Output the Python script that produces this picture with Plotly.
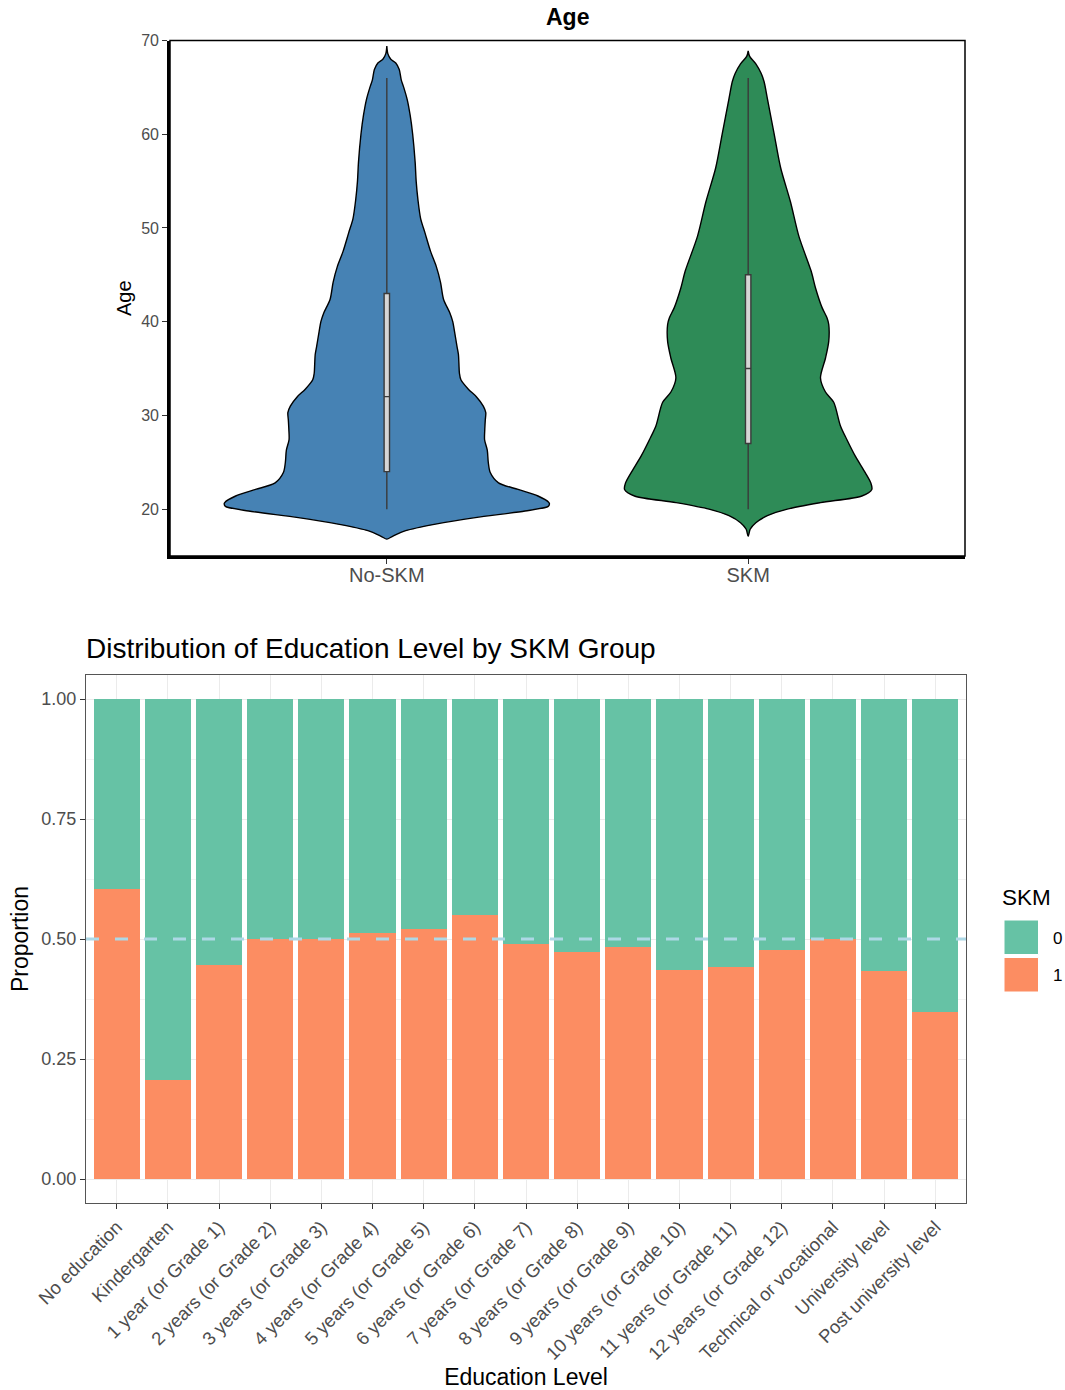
import plotly.graph_objects as go

# ---------------- Data: top panel (Age violins) ----------------
groups = ["No-SKM", "SKM"]
# Age grid and estimated density half-widths (relative units)
noskm_age = [16.8, 17.1, 17.7, 18.4, 19.1, 19.8, 20.3, 20.55, 20.7, 21.4, 22.1, 22.8, 23.9,
             25.0, 26.3, 27.4, 28.5, 29.5, 30.3, 31.0, 32.0, 32.8, 33.8, 34.5, 35.5, 36.5,
             37.4, 39.0, 40.0, 40.9, 42.4, 44.2, 45.9, 47.5, 49.5, 51.0, 53.0, 55.0, 57.0,
             60.0, 62.0, 63.7, 65.0, 65.8, 66.9, 67.6, 68.0, 68.6, 69.4]
noskm_dens = [0, 5.7, 19, 49, 89, 139, 162.3, 163.5, 163, 152, 132, 112.3, 104,
              102, 101, 98.3, 98.5, 99, 99.5, 97, 90, 82, 74.5, 73, 72.5, 72,
              70.5, 68, 66.3, 63.5, 57, 54, 49.7, 44, 38.3, 34, 31.3, 29.5, 28.5,
              26, 23.5, 20.5, 17, 14.5, 12.5, 9, 4, 1, 0]
skm_age = [17.1, 17.85, 18.55, 19.3, 20.0, 20.7, 21.4, 22.1, 22.8, 23.9, 25.65, 27.4,
           28.9, 31.4, 32.5, 34.0, 36.1, 37.9, 39.7, 40.4, 41.5, 43.6, 45.4, 49.1, 52.8,
           56.4, 60.1, 63.8, 65.6, 66.5, 67.5, 68.3, 68.9]
skm_dens = [0, 2, 7.7, 19.3, 39.3, 72.7, 114.3, 124.3, 123.3, 117.7, 107.7, 99.3,
            92.7, 86, 77.7, 72.7, 77.7, 81, 81, 79.3, 74.3, 67.7, 63.3, 51, 42.5,
            32.7, 26, 19.3, 16, 13, 7.7, 1.5, 0]
# Box-plot statistics
age_min = [20, 20]
age_q1 = [24, 27]
age_median = [32, 35]
age_q3 = [43, 45]
age_max = [66, 66]

# ---------------- Data: bottom panel (Education proportions) ----------------
edu_levels = ["No education", "Kindergarten", "1 year (or Grade 1)", "2 years (or Grade 2)",
              "3 years (or Grade 3)", "4 years (or Grade 4)", "5 years (or Grade 5)",
              "6 years (or Grade 6)", "7 years (or Grade 7)", "8 years (or Grade 8)",
              "9 years (or Grade 9)", "10 years (or Grade 10)", "11 years (or Grade 11)",
              "12 years (or Grade 12)", "Technical or vocational", "University level",
              "Post university level"]
prop_skm1 = [0.605, 0.206, 0.445, 0.500, 0.500, 0.512, 0.521, 0.550, 0.490, 0.473,
             0.484, 0.435, 0.442, 0.477, 0.501, 0.434, 0.348]
prop_skm0 = [0.395, 0.794, 0.555, 0.500, 0.500, 0.488, 0.479, 0.450, 0.510, 0.527,
             0.516, 0.565, 0.558, 0.523, 0.499, 0.566, 0.652]
ref_line = 0.5
y_ticks = [0, 0.25, 0.5, 0.75, 1.0]

# ---------------- Styles ----------------
FONT = "Arial, 'Liberation Sans', sans-serif"
TICK_GREY = "#4D4D4D"
VIOLIN_COLORS = ["#4682B4", "#2E8B57"]
COL0 = "#66C2A5"
COL1 = "#FC8D62"
W, H = 1065, 1390
AGE_RANGE = [15, 70]
GROUP_RANGE = [0.4, 2.6]

fig = go.Figure()

# Violins (outline from density estimate)
all_max = max(max(noskm_dens), max(skm_dens))
half_width = 0.45
for i, (ages, dens) in enumerate([(noskm_age, noskm_dens), (skm_age, skm_dens)]):
    c = i + 1
    xs = [c + d / all_max * half_width for d in dens] + \
         [c - d / all_max * half_width for d in reversed(dens)]
    ys = list(ages) + list(reversed(ages))
    fig.add_trace(go.Scatter(
        x=xs, y=ys, mode="lines", fill="toself", fillcolor=VIOLIN_COLORS[i],
        line=dict(color="black", width=1.4, shape="spline", smoothing=0.8),
        showlegend=False, hoverinfo="skip", xaxis="x", yaxis="y"))

# Narrow box plots (on an overlaying copy of the axes so they sit above the violins)
for i in range(2):
    fig.add_trace(go.Box(
        x=[i + 1], q1=[age_q1[i]], median=[age_median[i]], q3=[age_q3[i]],
        lowerfence=[age_min[i]], upperfence=[age_max[i]],
        width=0.015, whiskerwidth=0, boxpoints=False, orientation="v",
        fillcolor="#D6D6D6", line=dict(color="#3A3A3A", width=1.4),
        showlegend=False, xaxis="x3", yaxis="y3"))

# Stacked proportion bars
xpos = list(range(1, len(edu_levels) + 1))
fig.add_trace(go.Bar(x=xpos, y=prop_skm1, width=0.9, marker=dict(color=COL1, line=dict(width=0)),
                     name="1", showlegend=False, xaxis="x2", yaxis="y2",
                     hovertext=edu_levels))
fig.add_trace(go.Bar(x=xpos, y=prop_skm0, width=0.9, marker=dict(color=COL0, line=dict(width=0)),
                     name="0", showlegend=False, xaxis="x2", yaxis="y2",
                     hovertext=edu_levels))

def px_x(v):
    return v / W

def px_y(v):
    return 1 - v / H

top_dom_x = [px_x(170), px_x(965)]
top_dom_y = [px_y(556), px_y(40.5)]
bot_dom_x = [px_x(86), px_x(966)]
bot_dom_y = [px_y(1203), px_y(675)]

fig.update_layout(
    width=W, height=H,
    margin=dict(l=0, r=0, t=0, b=0),
    paper_bgcolor="white", plot_bgcolor="white",
    font=dict(family=FONT, color="black"),
    barmode="stack", bargap=0.1,
    showlegend=False,
    xaxis=dict(domain=top_dom_x, anchor="y", range=GROUP_RANGE,
               tickvals=[1, 2], ticktext=groups,
               showline=True, linewidth=2.6, linecolor="black",
               ticks="outside", ticklen=5, tickwidth=1.4, tickcolor="#333333",
               ticklabelstandoff=-6,
               tickfont=dict(size=20, color=TICK_GREY, family=FONT),
               showgrid=False, zeroline=False, automargin=False),
    yaxis=dict(domain=top_dom_y, anchor="x", range=AGE_RANGE,
               tickvals=[20, 30, 40, 50, 60, 70],
               showline=True, linewidth=2.6, linecolor="black",
               ticks="outside", ticklen=5, tickwidth=1.4, tickcolor="#333333",
               tickfont=dict(size=16, color=TICK_GREY, family=FONT),
               title=dict(text="Age", font=dict(size=20, family=FONT, color="black"), standoff=5),
               showgrid=False, zeroline=False, automargin=False),
    xaxis3=dict(overlaying="x", anchor="y3", range=GROUP_RANGE, visible=False,
                showgrid=False, zeroline=False),
    yaxis3=dict(overlaying="y", anchor="x3", range=AGE_RANGE, visible=False,
                showgrid=False, zeroline=False),
    xaxis2=dict(domain=bot_dom_x, anchor="y2", range=[0.4, 17.6],
                tickvals=xpos, ticktext=edu_levels, tickangle=-45,
                showline=True, mirror=True, linewidth=1.2, linecolor="#555555",
                ticks="outside", ticklen=5, tickwidth=1.2, tickcolor="#333333",
                tickfont=dict(size=18.5, color=TICK_GREY, family=FONT),
                showgrid=True, gridcolor="#EBEBEB", gridwidth=1.3,
                title=dict(text="Education Level", font=dict(size=23, family=FONT, color="black"),
                           standoff=13),
                zeroline=False, automargin=False),
    yaxis2=dict(domain=bot_dom_y, anchor="x2", range=[-0.05, 1.05],
                tickvals=y_ticks, ticktext=[f"{v:.2f}" for v in y_ticks],
                showline=True, mirror=True, linewidth=1.2, linecolor="#555555",
                ticks="outside", ticklen=5, tickwidth=1.2, tickcolor="#333333",
                tickfont=dict(size=18, color=TICK_GREY, family=FONT),
                showgrid=True, gridcolor="#EBEBEB", gridwidth=1.3,
                minor=dict(tickvals=[0.125, 0.375, 0.625, 0.875], showgrid=True,
                           gridcolor="#F3F3F3", gridwidth=0.7, ticks=""),
                title=dict(text="Proportion", font=dict(size=23, family=FONT, color="black"),
                           standoff=6),
                zeroline=False, automargin=False),
)

# Thin full border around the top panel
fig.add_shape(type="rect", xref="x domain", yref="y domain", x0=0, x1=1, y0=0, y1=1,
              line=dict(color="black", width=1.5), layer="above")

# Reference line at 0.5
fig.add_shape(type="line", xref="x2 domain", yref="y2", x0=0, x1=1, y0=ref_line, y1=ref_line,
              line=dict(color="#ADD8E6", width=3, dash="13px,16px"), layer="above")

# Titles
fig.add_annotation(text="<b>Age</b>", xref="paper", yref="paper",
                   x=px_x(567.5), y=px_y(17), xanchor="center", yanchor="middle",
                   showarrow=False, font=dict(size=23, family=FONT, color="black"))
fig.add_annotation(text="Distribution of Education Level by SKM Group", xref="paper", yref="paper",
                   x=px_x(84), y=px_y(648), xanchor="left", yanchor="middle",
                   showarrow=False, font=dict(size=28, family=FONT, color="black"))

# Legend (drawn keys)
fig.add_annotation(text="SKM", xref="paper", yref="paper", x=px_x(1000), y=px_y(897),
                   xanchor="left", yanchor="middle", showarrow=False,
                   font=dict(size=22.5, family=FONT, color="black"))
for k, (lab, col) in enumerate([("0", COL0), ("1", COL1)]):
    top = 920 + k * 37.5
    fig.add_shape(type="rect", xref="paper", yref="paper",
                  x0=px_x(1004), x1=px_x(1038.5), y0=px_y(top + 34.5), y1=px_y(top),
                  fillcolor=col, line=dict(color="white", width=1))
    fig.add_annotation(text=lab, xref="paper", yref="paper", x=px_x(1051), y=px_y(top + 18),
                       xanchor="left", yanchor="middle", showarrow=False,
                       font=dict(size=17, family=FONT, color="black"))

fig.write_html("out.html", config={"displayModeBar": False},
               post_script="document.body.style.margin='0px';document.body.style.padding='0px';")
